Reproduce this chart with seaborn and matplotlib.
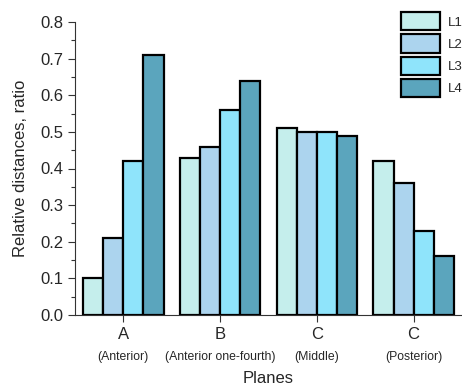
import matplotlib
matplotlib.use("Agg")
import matplotlib.pyplot as plt
import seaborn as sns
import pandas as pd
from matplotlib.ticker import MultipleLocator
import matplotlib.transforms as mtransforms

planes = ["A", "B", "C", "C "]
plane_sub = ["(Anterior)", "(Anterior one-fourth)", "(Middle)", "(Posterior)"]
levels = ["L1", "L2", "L3", "L4"]
L1 = [0.10, 0.43, 0.51, 0.42]
L2 = [0.21, 0.46, 0.50, 0.36]
L3 = [0.42, 0.56, 0.50, 0.23]
L4 = [0.71, 0.64, 0.49, 0.16]
colors = ["#c5eeec", "#acd4ee", "#8fe4fb", "#5ba5bd"]

rows = []
for lev, vals in zip(levels, [L1, L2, L3, L4]):
    for p, v in zip(planes, vals):
        rows.append({"Plane": p, "Level": lev, "Value": v})
df = pd.DataFrame(rows)

sns.set_style("ticks")
plt.rcParams['font.family'] = ['Liberation Sans', 'DejaVu Sans']

fig = plt.figure(figsize=(4.62, 3.9), dpi=100)
ax = fig.add_axes([75/462, 1-315/390, 387/462, 293/390])

sns.barplot(data=df, x="Plane", y="Value", hue="Level", order=planes,
            hue_order=levels, palette=colors, saturation=1, width=0.83,
            edgecolor="black", linewidth=1.6, ax=ax, legend=True)

ax.set_xlim(-0.5, 3.5)
ax.set_ylim(0, 0.8)
ax.yaxis.set_major_locator(MultipleLocator(0.1))
ax.yaxis.set_minor_locator(MultipleLocator(0.05))
ax.set_yticklabels([f"{t:.1f}" for t in ax.get_yticks()], fontsize=12)
ax.tick_params(axis='y', which='major', length=5, width=0.8, color='#333333')
ax.tick_params(axis='y', which='minor', length=3, width=0.8, color='#333333')
ax.tick_params(axis='x', length=5, width=0.8, color='#333333', labelsize=12)
ax.set_xticks(range(4))
ax.set_xticklabels(["A", "B", "C", "C"])
for s in ['top', 'right']:
    ax.spines[s].set_visible(False)
for s in ['left', 'bottom']:
    ax.spines[s].set_linewidth(0.8)
    ax.spines[s].set_color('#333333')

trans = mtransforms.blended_transform_factory(ax.transData, fig.transFigure)
for i, sub in enumerate(plane_sub):
    ax.text(i, 1-357/390, sub, transform=trans, ha='center', va='center', fontsize=8.8)

ax.set_xlabel("Planes", fontsize=12, labelpad=21)
ax.set_ylabel("Relative distances, ratio", fontsize=12, labelpad=9)

leg = ax.legend(loc='upper left', bbox_to_anchor=(392/462, 1-3/390),
                bbox_transform=fig.transFigure, frameon=False, fontsize=9.5,
                handlelength=2.9, handleheight=1.75, labelspacing=0.3,
                handletextpad=0.6, borderpad=0.2)
for h in leg.legend_handles:
    h.set_edgecolor('black')
    h.set_linewidth(1.6)

fig.savefig("out.png", dpi=100)
